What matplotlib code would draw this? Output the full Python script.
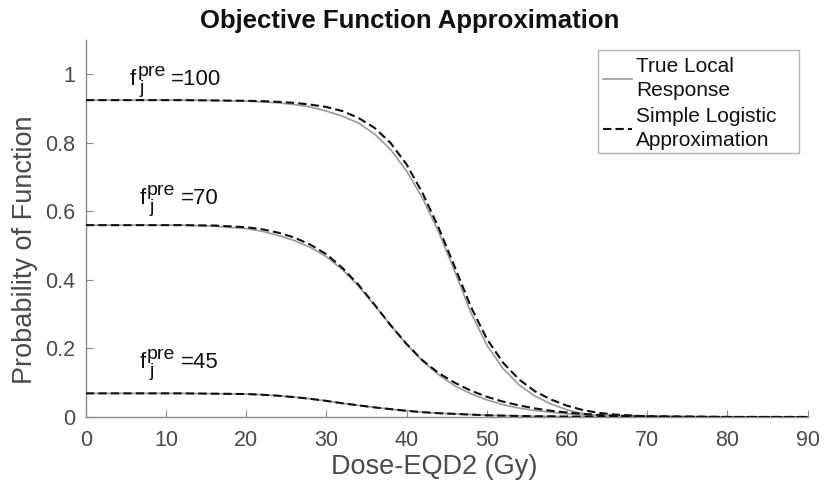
import matplotlib
matplotlib.use('Agg')
import matplotlib.pyplot as plt
from matplotlib.patches import Rectangle

# --- dados: probabilidade de função vs. dose (EQD2) ---
dose = [0, 4, 8, 12, 16, 20, 22, 24, 26, 28, 30, 32, 34, 36, 38, 40, 42, 44,
        46, 48, 50, 52, 54, 56, 58, 60, 62, 64, 66, 70, 75, 80, 85, 90]

# resposta local verdadeira (linha cinza)
true_100 = [0.925, 0.925, 0.925, 0.925, 0.924, 0.922, 0.920, 0.917, 0.912, 0.905,
            0.893, 0.878, 0.858, 0.826, 0.781, 0.718, 0.638, 0.540, 0.425, 0.305,
            0.210, 0.142, 0.094, 0.061, 0.038, 0.021, 0.010, 0.004, 0.0015, 0.0,
            0.0, 0.0, 0.0, 0.0]
true_70 = [0.560, 0.560, 0.560, 0.560, 0.557, 0.550, 0.542, 0.530, 0.515, 0.495,
           0.468, 0.430, 0.382, 0.326, 0.268, 0.212, 0.163, 0.123, 0.091, 0.068,
           0.050, 0.036, 0.026, 0.019, 0.014, 0.009, 0.006, 0.004, 0.003, 0.001,
           0.0, 0.0, 0.0, 0.0]
true_45 = [0.069, 0.069, 0.069, 0.069, 0.068, 0.067, 0.065, 0.062, 0.058, 0.053,
           0.047, 0.040, 0.034, 0.028, 0.023, 0.018, 0.014, 0.011, 0.009, 0.007,
           0.005, 0.004, 0.003, 0.002, 0.002, 0.001, 0.001, 0.001, 0.0, 0.0,
           0.0, 0.0, 0.0, 0.0]

# aproximação logística simples (linha tracejada)
logit_100 = [0.925, 0.925, 0.925, 0.925, 0.924, 0.923, 0.922, 0.920, 0.917, 0.912,
             0.905, 0.893, 0.873, 0.844, 0.800, 0.737, 0.653, 0.552, 0.438, 0.322,
             0.228, 0.159, 0.110, 0.075, 0.051, 0.033, 0.020, 0.012, 0.007, 0.002,
             0.001, 0.0, 0.0, 0.0]
logit_70 = [0.560, 0.560, 0.560, 0.560, 0.559, 0.554, 0.548, 0.538, 0.524, 0.503,
            0.475, 0.435, 0.386, 0.328, 0.268, 0.213, 0.165, 0.128, 0.100, 0.077,
            0.059, 0.045, 0.034, 0.025, 0.018, 0.013, 0.009, 0.006, 0.004, 0.002,
            0.001, 0.0, 0.0, 0.0]
logit_45 = [0.069, 0.069, 0.069, 0.069, 0.068, 0.067, 0.065, 0.062, 0.058, 0.053,
            0.047, 0.040, 0.034, 0.028, 0.023, 0.018, 0.014, 0.011, 0.009, 0.007,
            0.005, 0.004, 0.003, 0.002, 0.002, 0.001, 0.001, 0.001, 0.001, 0.0,
            0.0, 0.0, 0.0, 0.0]

f_pre = ['100', '70', '45']
label_x = [5.5, 6.7, 6.7]
label_y = [0.969, 0.622, 0.142]

# --- estilo ---
plt.rcParams['font.family'] = ['Liberation Sans', 'DejaVu Sans']

cinza_eixo = '#8c8c8c'
cinza_texto = '#4a4a4a'
preto = '#111111'

fig = plt.figure(figsize=(8.25, 4.9), dpi=100)
ax = fig.add_axes([0.104, 0.149, 0.875, 0.769])

for t, l in [(true_100, logit_100), (true_70, logit_70), (true_45, logit_45)]:
    ax.plot(dose, t, color='#9a9a9a', lw=1.2, zorder=2)
    ax.plot(dose, l, color=preto, lw=1.5, dashes=(4, 2), zorder=3)

# rótulos f_j^pre montados em partes (f, sobrescrito, subscrito, valor)
for txt, x, y in zip(f_pre, label_x, label_y):
    ax.annotate('f', (x, y), fontsize=16, color=preto, va='baseline', ha='left')
    ax.annotate('pre', (x, y), xytext=(5.5, 6.5), textcoords='offset points',
                fontsize=14, color=preto, va='baseline', ha='left')
    ax.annotate('j', (x, y), xytext=(7, -5.5), textcoords='offset points',
                fontsize=14, color=preto, va='baseline', ha='left')
    ax.annotate('=' + txt, (x, y), xytext=(29.5, 0), textcoords='offset points',
                fontsize=16, color=preto, va='baseline', ha='left')

ax.set_xlim(0, 90)
ax.set_ylim(0, 1.1)
ax.set_xticks(range(0, 91, 10))
ax.set_yticks([0, 0.2, 0.4, 0.6, 0.8, 1])
ax.set_yticklabels(['0', '0.2', '0.4', '0.6', '0.8', '1'])

for s in ['top', 'right']:
    ax.spines[s].set_visible(False)
for s in ['left', 'bottom']:
    ax.spines[s].set_color(cinza_eixo)
    ax.spines[s].set_linewidth(1.0)

ax.tick_params(direction='in', length=5, width=0.8, color=cinza_eixo,
               labelcolor=cinza_texto, labelsize=15.5)
ax.tick_params(axis='x', pad=9.5)
ax.tick_params(axis='y', pad=7.5)

ax.set_xlabel('Dose-EQD2 (Gy)', fontsize=19.5, color=cinza_texto, va='center')
ax.xaxis.set_label_coords(0.483, -0.133)
ax.set_ylabel('Probability of Function', fontsize=19.5, color=cinza_texto, va='center')
ax.yaxis.set_label_coords(-0.0845, 0.443)

fig.text(0.496, 0.957, 'Objective Function Approximation', fontsize=18.5,
         fontweight='bold', ha='center', va='center', color=preto)

# legenda sem moldura própria; a caixa é desenhada à parte
handles = ax.get_lines()[:2]
leg = ax.legend(handles, ['True Local\nResponse', 'Simple Logistic\nApproximation'],
                loc='upper left', bbox_to_anchor=(603 / 825, 1 - 57 / 490),
                bbox_transform=fig.transFigure, fontsize=15, frameon=False,
                handlelength=1.4, handletextpad=0.2, labelspacing=0.36,
                borderpad=0.0, borderaxespad=0.0)
for t in leg.get_texts():
    t.set_color(preto)
    t.set_linespacing(1.33)

caixa = Rectangle((597.7 / 825, 1 - 153.3 / 490), (799 - 597.7) / 825, 103.3 / 490,
                  transform=fig.transFigure, facecolor='none', edgecolor='#b5b5b5',
                  lw=1.0, zorder=5)
fig.patches.append(caixa)

fig.savefig('out.png', dpi=100)
